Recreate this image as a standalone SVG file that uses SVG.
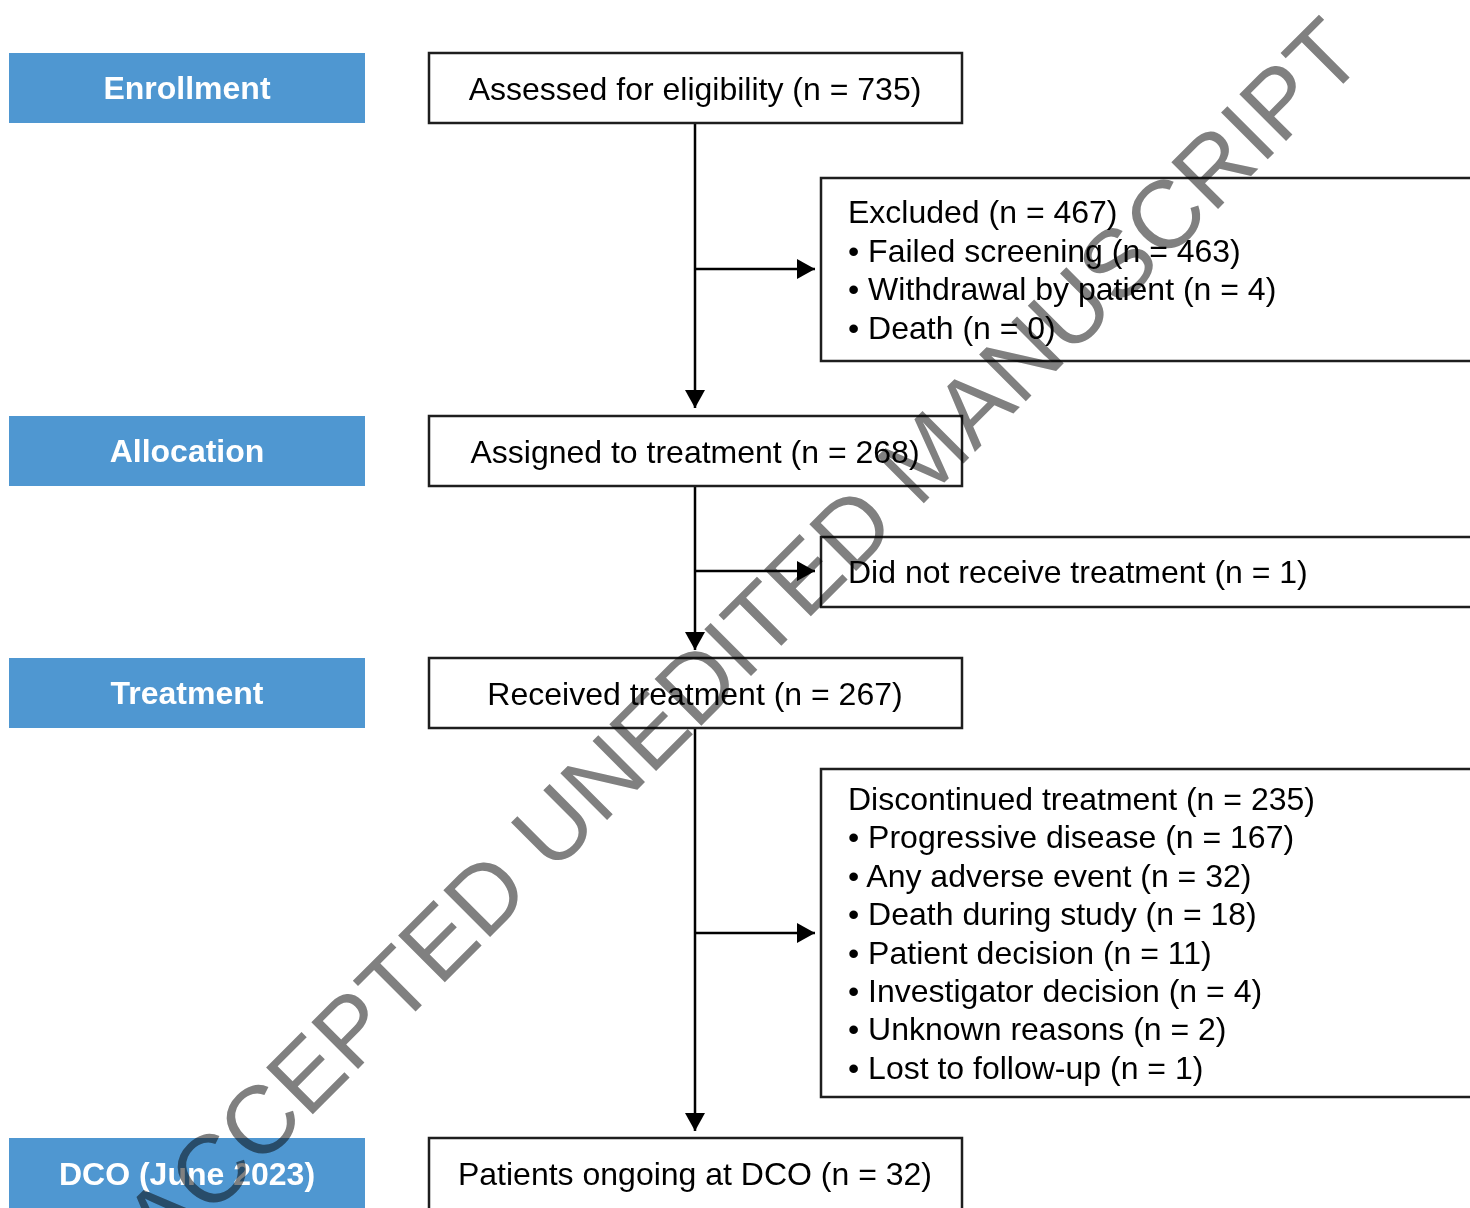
<svg xmlns="http://www.w3.org/2000/svg" width="1470" height="1208" viewBox="0 0 1470 1208">
<style>
.stage rect{fill:#4f97d1;stroke:none}
.stage text{font-family:"Liberation Sans",Arial,sans-serif;font-size:32px;font-weight:bold;fill:#fff;text-anchor:middle}
.box rect{fill:#fff;stroke:#1e1e1e;stroke-width:2.5}
.box text{font-family:"Liberation Sans",Arial,sans-serif;font-size:32px;fill:#000}
.c{text-anchor:middle}
.conn line{stroke:#000;stroke-width:2.5}
.wm{font-family:"Liberation Sans",Arial,sans-serif;font-size:96px;fill:#808080;mix-blend-mode:multiply}
</style>
<defs>
<marker id="ah" viewBox="0 0 18 20" refX="18" refY="10" markerWidth="18" markerHeight="20" markerUnits="userSpaceOnUse" orient="auto">
<path d="M0,0 L18,10 L0,20 Z" fill="#000"/>
</marker>
</defs>
<rect width="1470" height="1208" fill="#fff"/>

<g id="stage-enrollment" class="stage"><rect x="9" y="53" width="356" height="70"/><text x="187" y="99">Enrollment</text></g>
<g id="stage-allocation" class="stage"><rect x="9" y="416" width="356" height="70"/><text x="187" y="462">Allocation</text></g>
<g id="stage-treatment" class="stage"><rect x="9" y="658" width="356" height="70"/><text x="187" y="704">Treatment</text></g>
<g id="stage-dco" class="stage"><rect x="9" y="1138" width="356" height="72"/><text x="187" y="1185">DCO (June 2023)</text></g>

<g class="conn" id="connectors">
<line x1="695" y1="123" x2="695" y2="408" marker-end="url(#ah)"/>
<line x1="695" y1="269" x2="815" y2="269" marker-end="url(#ah)"/>
<line x1="695" y1="486" x2="695" y2="650" marker-end="url(#ah)"/>
<line x1="695" y1="571" x2="815" y2="571" marker-end="url(#ah)"/>
<line x1="695" y1="728" x2="695" y2="1131" marker-end="url(#ah)"/>
<line x1="695" y1="933" x2="815" y2="933" marker-end="url(#ah)"/>
</g>

<g id="assessed" class="box"><rect x="429" y="53" width="533" height="70"/><text class="c" x="695" y="100">Assessed for eligibility (n = 735)</text></g>
<g id="excluded" class="box"><rect x="821" y="178" width="680" height="183"/>
<text x="848" y="223">Excluded (n = 467)</text>
<text x="848" y="262">• Failed screening (n = 463)</text>
<text x="848" y="300">• Withdrawal by patient (n = 4)</text>
<text x="848" y="339">• Death (n = 0)</text>
</g>
<g id="assigned" class="box"><rect x="429" y="416" width="533" height="70"/><text class="c" x="695" y="463">Assigned to treatment (n = 268)</text></g>
<g id="notreceived" class="box"><rect x="821" y="537" width="680" height="70"/><text x="848" y="583">Did not receive treatment (n = 1)</text></g>
<g id="received" class="box"><rect x="429" y="658" width="533" height="70"/><text class="c" x="695" y="705">Received treatment (n = 267)</text></g>
<g id="discontinued" class="box"><rect x="821" y="769" width="680" height="328"/>
<text x="848" y="810">Discontinued treatment (n = 235)</text>
<text x="848" y="848">• Progressive disease (n = 167)</text>
<text x="848" y="887">• Any adverse event (n = 32)</text>
<text x="848" y="925">• Death during study (n = 18)</text>
<text x="848" y="964">• Patient decision (n = 11)</text>
<text x="848" y="1002">• Investigator decision (n = 4)</text>
<text x="848" y="1040">• Unknown reasons (n = 2)</text>
<text x="848" y="1079">• Lost to follow-up (n = 1)</text>
</g>
<g id="ongoing" class="box"><rect x="429" y="1138" width="533" height="72"/><text class="c" x="695" y="1185">Patients ongoing at DCO (n = 32)</text></g>

<text class="wm" transform="translate(164,1263) rotate(-45)">ACCEPTED UNEDITED MANUSCRIPT</text>
</svg>
